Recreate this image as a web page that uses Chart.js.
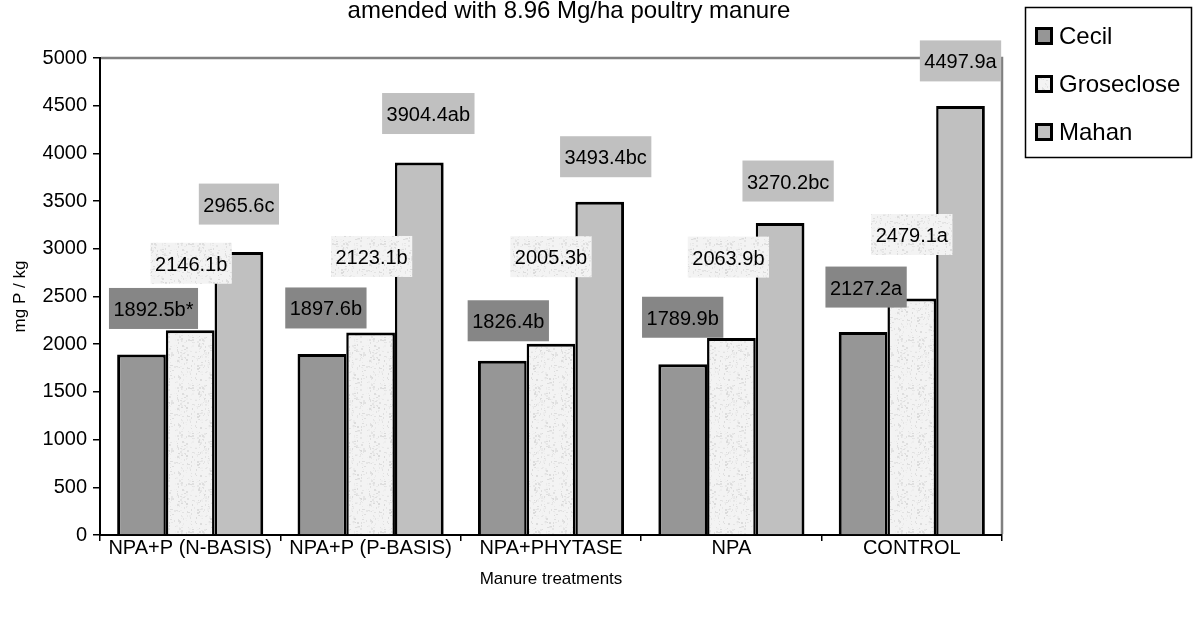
<!DOCTYPE html>
<html>
<head>
<meta charset="utf-8">
<script src="https://cdn.jsdelivr.net/npm/chart.js@4.4.1/dist/chart.umd.min.js"></script>
<style>
  html, body { margin: 0; padding: 0; background: #fff; }
  canvas { display: block; }
</style>
</head>
<body>
<canvas id="chart" width="1198" height="619"></canvas>
<script>
// Data
const treatments = ['NPA+P (N-BASIS)', 'NPA+P (P-BASIS)', 'NPA+PHYTASE', 'NPA', 'CONTROL'];
const cecil = [1892.5, 1897.6, 1826.4, 1789.9, 2127.2];
const groseclose = [2146.1, 2123.1, 2005.3, 2063.9, 2479.1];
const mahan = [2965.6, 3904.4, 3493.4, 3270.2, 4497.9];
const cecilLetters = ['b*', 'b', 'b', 'b', 'a'];
const grosecloseLetters = ['b', 'b', 'b', 'b', 'a'];
const mahanLetters = ['c', 'ab', 'bc', 'bc', 'a'];
const yTicks = [0, 500, 1000, 1500, 2000, 2500, 3000, 3500, 4000, 4500, 5000];

// Label box placement, relative to the top centre of each bar: [dx, rise]
const cecilLabelPos = [[12, 46], [4, 46], [6, 40], [0, 47], [3, 45]];
const grosecloseLabelPos = [[1, 67], [1, 76], [0, 87], [-3, 81], [0, 64]];
const mahanLabelPos = [[0, 48], [9, 49], [6, 45], [8, 42], [0, 45]];

const FONT = '"Liberation Sans", Arial, sans-serif';
const canvas = document.getElementById('chart');
const ctx = canvas.getContext('2d');

// speckled light fill used for Groseclose
function speckle() {
    const c = document.createElement('canvas');
    c.width = c.height = 48;
    const g = c.getContext('2d');
    g.fillStyle = '#f3f3f3';
    g.fillRect(0, 0, 48, 48);
    let seed = 11;
    const rnd = () => (seed = (seed * 16807) % 2147483647) / 2147483647;
    for (let k = 0; k < 260; k++) {
        const v = 218 + Math.floor(rnd() * 24);
        g.fillStyle = `rgb(${v},${v},${v})`;
        g.fillRect(Math.floor(rnd() * 48), Math.floor(rnd() * 48), 1 + Math.floor(rnd() * 2), 1 + Math.floor(rnd() * 2));
    }
    return ctx.createPattern(c, 'repeat');
}
const grosecloseFill = speckle();

// grey top/right edge of the plot, drawn under the bars and labels
const framePlugin = {
    id: 'frame',
    beforeDatasetsDraw(chart) {
        const c = chart.ctx;
        const a = chart.chartArea;
        c.save();
        c.strokeStyle = '#808080';
        c.lineWidth = 2.5;
        c.beginPath();
        c.moveTo(a.left + 1, a.top);
        c.lineTo(a.right, a.top);
        c.lineTo(a.right, a.bottom - 1);
        c.stroke();
        c.restore();
    }
};

const labelPlugin = {
    id: 'valueLabels',
    afterDraw(chart) {
        const c = chart.ctx;
        c.save();
        c.font = '20px ' + FONT;
        c.textAlign = 'center';
        c.textBaseline = 'middle';
        chart.data.datasets.forEach((ds, i) => {
            chart.getDatasetMeta(i).data.forEach((bar, j) => {
                const text = ds.data[j].toFixed(1) + ds.letters[j];
                const [dx, rise] = ds.labelPos[j];
                const cx = bar.x + dx;
                const cy = bar.y - rise;
                const w = c.measureText(text).width + 9;
                const h = 41;
                c.fillStyle = ds.labelBg;
                c.fillRect(cx - w / 2, cy - h / 2, w, h);
                c.fillStyle = '#000';
                c.fillText(text, cx, cy + 2);
            });
        });

        // title (second line of a cut-off heading)
        c.font = '24px ' + FONT;
        c.textBaseline = 'alphabetic';
        c.fillText('amended with 8.96 Mg/ha poultry manure', 569, 18);

        // legend
        c.strokeStyle = '#000';
        c.lineWidth = 1.5;
        c.strokeRect(1025.5, 7.5, 166, 150);
        c.textAlign = 'left';
        c.textBaseline = 'middle';
        chart.data.datasets.forEach((ds, i) => {
            const y = 36 + i * 48;
            c.fillStyle = '#000';
            c.fillRect(1035, y - 9, 18, 18);
            c.fillStyle = ds.backgroundColor;
            c.fillRect(1038, y - 6, 12, 12);
            c.fillStyle = '#000';
            c.fillText(ds.label, 1059, y + 1);
        });
        c.restore();
    }
};

new Chart(ctx, {
    type: 'bar',
    data: {
        labels: treatments,
        datasets: [
            { label: 'Cecil', data: cecil, letters: cecilLetters, labelPos: cecilLabelPos,
              backgroundColor: '#969696', labelBg: '#868686',
              borderWidth: { top: 3, left: 3, right: 2.5, bottom: 0 } },
            { label: 'Groseclose', data: groseclose, letters: grosecloseLetters, labelPos: grosecloseLabelPos,
              backgroundColor: grosecloseFill, labelBg: grosecloseFill,
              borderWidth: { top: 3, left: 2.5, right: 2.5, bottom: 0 } },
            { label: 'Mahan', data: mahan, letters: mahanLetters, labelPos: mahanLabelPos,
              backgroundColor: '#c0c0c0', labelBg: '#c0c0c0',
              borderWidth: { top: 3, left: 2.5, right: 3, bottom: 0 } }
        ]
    },
    options: {
        responsive: false,
        animation: false,
        devicePixelRatio: 1,
        layout: { padding: { left: 0, right: 196, top: 58, bottom: 0 } },
        datasets: {
            bar: {
                categoryPercentage: 0.81,
                barPercentage: 1.0,
                borderColor: '#000',
                borderSkipped: 'start'
            }
        },
        plugins: {
            legend: { display: false },
            tooltip: { enabled: false }
        },
        scales: {
            x: {
                afterFit: s => { s.height = 84; },
                border: { color: '#000', width: 2 },
                grid: { offset: true, drawOnChartArea: false, drawTicks: true, tickLength: 6, color: '#000', lineWidth: 1.5 },
                ticks: { color: '#000', font: { size: 20, family: FONT }, padding: -5, maxRotation: 0, autoSkip: false },
                title: { display: true, text: 'Manure treatments', color: '#000', font: { size: 17, family: FONT }, padding: { top: 0, bottom: 29 } }
            },
            y: {
                min: 0,
                max: 5000,
                afterFit: s => { s.width = 100; },
                afterBuildTicks: s => { s.ticks = yTicks.map(v => ({ value: v })); },
                border: { color: '#000', width: 2 },
                grid: { drawOnChartArea: false, drawTicks: true, tickLength: 7, color: '#000', lineWidth: 1.5 },
                ticks: { color: '#000', font: { size: 20, family: FONT }, padding: 6, callback: v => String(v) },
                title: { display: true, text: 'mg P / kg', color: '#000', font: { size: 17, family: FONT }, padding: { top: 10, bottom: 0 } }
            }
        }
    },
    plugins: [framePlugin, labelPlugin]
});
</script>
</body>
</html>
